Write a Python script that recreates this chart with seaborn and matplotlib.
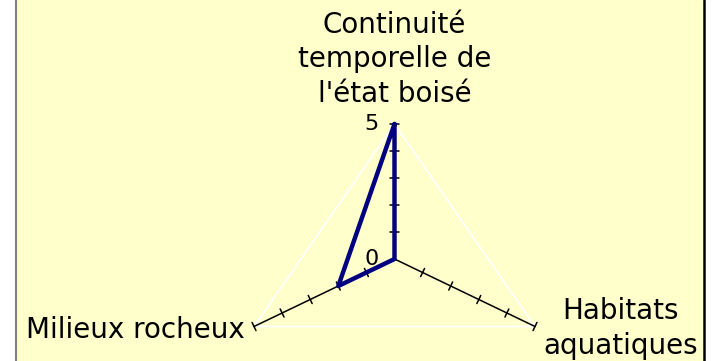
import numpy as np
import pandas as pd
import matplotlib
matplotlib.use("Agg")
import matplotlib.pyplot as plt
import seaborn as sns
from matplotlib.patches import Rectangle
from matplotlib.lines import Line2D

# données du radar (sens horaire depuis le haut)
categories = ["Continuité\ntemporelle de\nl'état boisé", "Habitats\naquatiques", "Milieux rocheux"]
values = [5, 0, 2]
angles_deg = [90, 330, 210]
scale_max = 5
tick_values = [1, 2, 3, 4, 5]
tick_labels = {5: "5", 0: "0"}

W, H = 715, 361
sns.set_theme(style="white")
plt.rcParams['font.family'] = ['DejaVu Sans']
plt.rcParams['text.color'] = 'black'

fig = plt.figure(figsize=(W / 100, H / 100), dpi=100, facecolor="white")

# fond jaune du graphique
fig.patches.append(Rectangle((16 / W, -0.01), 688 / W, 1.02, transform=fig.transFigure,
                             facecolor="#FFFFCC", edgecolor="none", zorder=-10))
fig.lines.append(Line2D([16 / W, 16 / W], [0, 1], transform=fig.transFigure, color="#808080", lw=1.5, zorder=-9))
fig.lines.append(Line2D([704 / W, 704 / W], [0, 1], transform=fig.transFigure, color="black", lw=1.8, zorder=-9))

ax = fig.add_axes([0, 0, 1, 1])
ax.set_zorder(5)
ax.set_facecolor("none")

# échelle (pixels par unité) : le graphique est étiré horizontalement
cx, cy = 394.5, 259.0
sx = 140.5 / (scale_max * np.cos(np.radians(30)))
sy = 135.0 / scale_max

theta = np.radians(angles_deg)

# grille extérieure blanche
gx = list(scale_max * np.cos(theta)) + [scale_max * np.cos(theta[0])]
gy = list(scale_max * np.sin(theta)) + [scale_max * np.sin(theta[0])]
ax.plot(gx, gy, color="white", lw=1.3, zorder=1)

# axes et graduations
half = 4.5
for t in theta:
    ax.plot([0, scale_max * np.cos(t)], [0, scale_max * np.sin(t)], color="black", lw=1.1, zorder=2)
    dx, dy = np.cos(t) * sx, np.sin(t) * sy
    n = np.hypot(dx, dy)
    px, py = -dy / n, dx / n
    for v in tick_values:
        x0, y0 = v * np.cos(t), v * np.sin(t)
        ax.plot([x0 - half * px / sx, x0 + half * px / sx],
                [y0 - half * py / sy, y0 + half * py / sy], color="black", lw=1.1, zorder=2)

# série
df = pd.DataFrame({
    "x": [v * np.cos(t) for v, t in zip(values + values[:1], np.append(theta, theta[0]))],
    "y": [v * np.sin(t) for v, t in zip(values + values[:1], np.append(theta, theta[0]))],
})
sns.lineplot(data=df, x="x", y="y", sort=False, estimator=None, color="#000080", lw=3.2, ax=ax, zorder=3)

ax.set_xlim(-cx / sx, (W - cx) / sx)
ax.set_ylim(-(H - cy) / sy, cy / sy)
ax.axis("off")

# étiquettes de l'échelle
for v, lab in tick_labels.items():
    ax.annotate(lab, xy=(0, v), xytext=(-16, 0), textcoords="offset pixels",
                ha="right", va="center", fontsize=16, color="black")

# libellés des catégories
ends = [(scale_max * np.cos(t), scale_max * np.sin(t)) for t in theta]
ax.annotate(categories[0], xy=ends[0], xytext=(0, 16), textcoords="offset pixels",
            ha="center", va="bottom", fontsize=20, linespacing=1.3, color="black")
ax.annotate(categories[1], xy=ends[1], xytext=(86, -33), textcoords="offset pixels",
            ha="center", va="bottom", fontsize=20, linespacing=1.3, color="black")
ax.annotate(categories[2], xy=ends[2], xytext=(-9, -18), textcoords="offset pixels",
            ha="right", va="bottom", fontsize=20, color="black")

fig.savefig("out.png", dpi=100, facecolor="white")
